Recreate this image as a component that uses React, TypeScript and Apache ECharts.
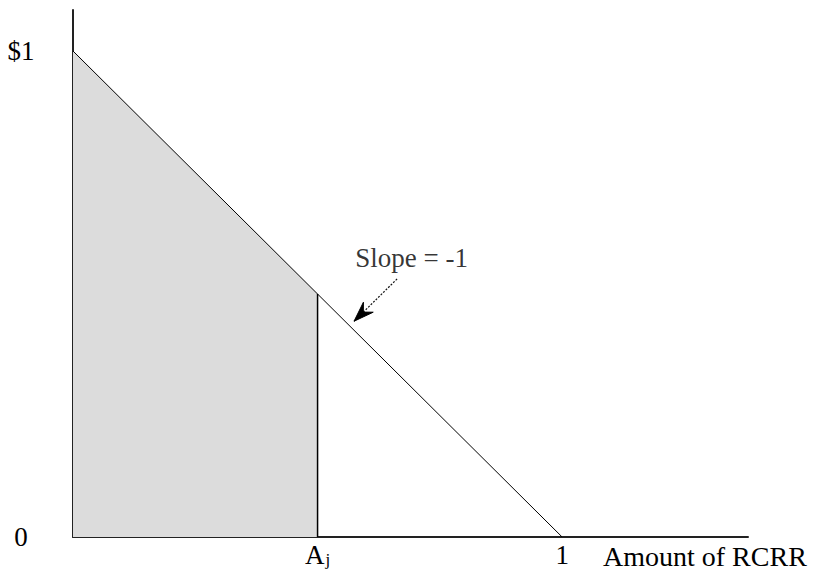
import React, { useEffect, useRef } from "react";
import * as echarts from "echarts";

// ---- data ----
const demandLine: number[][] = [[0, 1], [1, 0]];
const shadedArea: number[][] = [[0, 1], [0.5, 0.5]];
const ajLine: number[][] = [[0.5, 0], [0.5, 0.5]];
const xTickValues: number[] = [0.5, 1];
const xTickLabels: string[] = ["{a|A}{s|j}", "1"];
const yTickValues: number[] = [0, 1];
const yTickLabels: string[] = ["0", "$1"];
const slopeLabelPoint: number[][] = [[0.577, 0.574]];
const slopeLabelText = "Slope = -1";
const arrowFrom: number[] = [0.6626, 0.531];
const arrowTo: number[] = [0.5746, 0.444];
const xAxisName = "Amount of RCRR";

const FONT = "'Liberation Serif', 'Times New Roman', serif";

export default function App() {
  const ref = useRef<HTMLDivElement>(null);
  useEffect(() => {
    if (!ref.current) return;
    const chart = echarts.init(ref.current, null, { renderer: "svg" });
    const axisLineStyle = { color: "#222", width: 2 };
    chart.setOption({
      animation: false,
      backgroundColor: "#fff",
      grid: { left: 73, top: 10, right: 69, bottom: 36, outerBoundsMode: "none" },
      xAxis: {
        type: "value",
        min: 0,
        max: 1.38,
        axisLine: { show: true, onZero: false, lineStyle: axisLineStyle },
        axisTick: { show: false },
        splitLine: { show: false },
        axisLabel: {
          customValues: xTickValues,
          margin: 4,
          color: "#000",
          fontFamily: FONT,
          fontSize: 27,
          formatter: (v: number) => xTickLabels[xTickValues.indexOf(v)] ?? "",
          rich: {
            a: { fontFamily: FONT, fontSize: 27, color: "#000" },
            s: { fontFamily: FONT, fontSize: 17, color: "#000", padding: [10, 0, 0, 1] },
          },
        },
      },
      yAxis: {
        type: "value",
        min: 0,
        max: 1.0844,
        axisLine: { show: true, onZero: false, lineStyle: axisLineStyle },
        axisTick: { show: false },
        splitLine: { show: false },
        axisLabel: {
          customValues: yTickValues,
          margin: 52,
          align: "center",
          color: "#000",
          fontFamily: FONT,
          fontSize: 27,
          formatter: (v: number) => yTickLabels[yTickValues.indexOf(v)] ?? "",
        },
      },
      series: [
        {
          type: "line",
          data: shadedArea,
          symbol: "none",
          lineStyle: { width: 0 },
          areaStyle: { color: "#dcdcdc", opacity: 1 },
          silent: true,
          z: 1,
        },
        {
          type: "line",
          data: demandLine,
          symbol: "none",
          lineStyle: { color: "#000", width: 1 },
          silent: true,
          z: 3,
        },
        {
          type: "line",
          data: ajLine,
          symbol: "none",
          lineStyle: { color: "#000", width: 1.5 },
          silent: true,
          z: 3,
          markLine: {
            silent: true,
            symbol: ["none", "none"],
            label: { show: false },
            lineStyle: { color: "#111", width: 1.2, type: [2, 1.5] },
            data: [[{ coord: arrowFrom }, { coord: arrowTo }]],
          },
        },
        {
          type: "scatter",
          data: slopeLabelPoint,
          symbolSize: 0,
          silent: true,
          label: {
            show: true,
            position: "right",
            distance: 0,
            formatter: slopeLabelText,
            color: "#000",
            fontFamily: FONT,
            fontSize: 27,
          },
        },
      ],
      graphic: [
        {
          id: "xname",
          type: "text",
          left: 603,
          top: 542,
          style: { text: xAxisName, fill: "#000", font: `28px ${FONT}` },
        },
      ],
    });

    // arrowhead at the tip of the slope pointer, placed through the axes' scales
    const tip = chart.convertToPixel({ gridIndex: 0 }, arrowTo) as number[];
    const tail = chart.convertToPixel({ gridIndex: 0 }, arrowFrom) as number[];
    const dx = tip[0] - tail[0];
    const dy = tip[1] - tail[1];
    const len = Math.hypot(dx, dy) || 1;
    const ux = dx / len;
    const uy = dy / len;
    const nx = -uy;
    const ny = ux;
    const L = 20;
    const W = 7;
    const N = 13;
    const pts = [
      [tip[0], tip[1]],
      [tip[0] - ux * L + nx * W, tip[1] - uy * L + ny * W],
      [tip[0] - ux * N, tip[1] - uy * N],
      [tip[0] - ux * L - nx * W, tip[1] - uy * L - ny * W],
    ];
    chart.setOption({
      graphic: [
        {
          id: "xname",
          type: "text",
          left: 603,
          top: 542,
          style: { text: xAxisName, fill: "#000", font: `28px ${FONT}` },
        },
        {
          id: "arrowhead",
          type: "polygon",
          shape: { points: pts },
          style: { fill: "#000", stroke: "#000", lineWidth: 1 },
          silent: true,
          z: 10,
        },
      ],
    });
    return () => chart.dispose();
  }, []);
  return (
    <div
      ref={ref}
      style={{ position: "fixed", left: 0, top: 0, width: 817, height: 573, background: "#fff" }}
    />
  );
}
